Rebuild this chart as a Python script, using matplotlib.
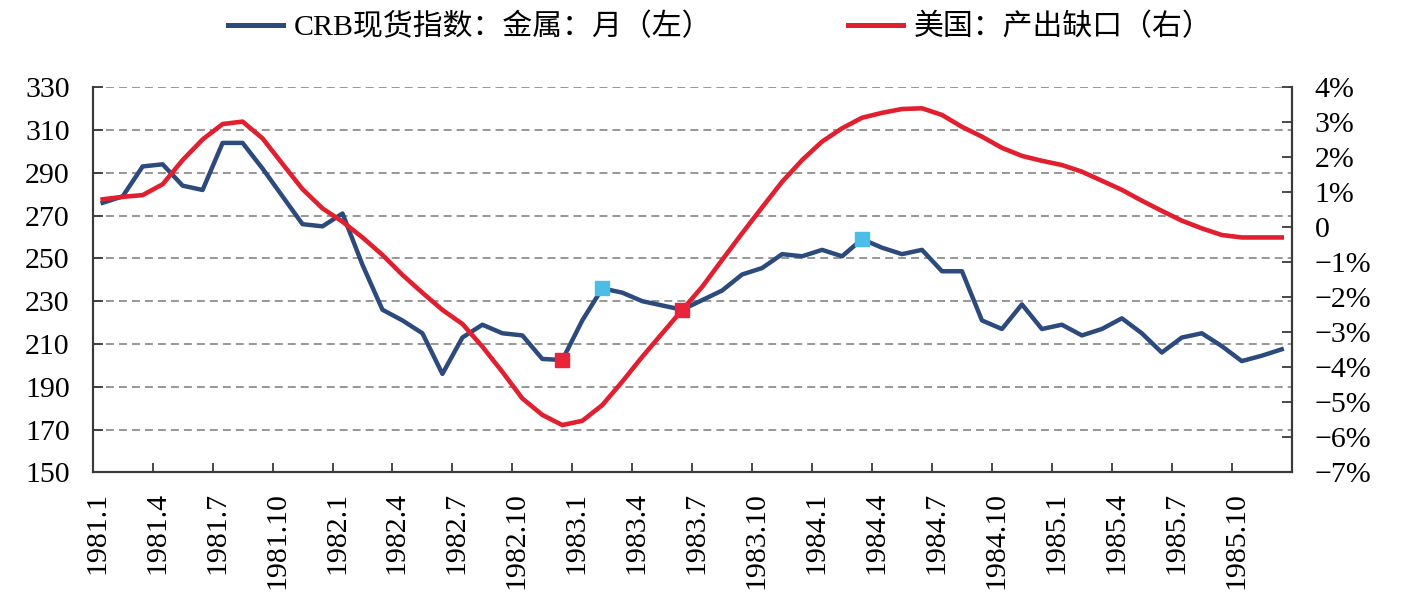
import matplotlib
matplotlib.use("Agg")
import matplotlib.pyplot as plt
from matplotlib.ticker import FixedLocator, NullFormatter
from matplotlib.lines import Line2D

plt.rcParams['font.family'] = ['Liberation Serif', 'Noto Sans CJK SC']
plt.rcParams['axes.unicode_minus'] = True

# ---------------- data ----------------
months = [f"{y}.{m}" for y in range(1981, 1986) for m in range(1, 13)]

crb_metals = [276, 279, 293, 294, 284, 282, 304, 304, 292, 279,
              266, 265, 271, 247, 226, 221, 215, 196, 213, 219,
              215, 214, 203, 202.5, 221, 236, 234, 230, 228, 226,
              230.5, 235, 242.5, 245.5, 252, 251, 254, 251, 259, 255,
              252, 254, 244, 244, 221, 217, 228.5, 217, 219, 214,
              217, 222, 215, 206, 213, 215, 209, 202, 204.5, 207.5]

us_output_gap = [0.80, 0.87, 0.92, 1.23, 1.92, 2.51, 2.95, 3.02, 2.54, 1.81,
                 1.09, 0.54, 0.16, -0.29, -0.79, -1.36, -1.87, -2.36, -2.76, -3.41,
                 -4.13, -4.89, -5.36, -5.65, -5.53, -5.08, -4.41, -3.70, -3.03, -2.36,
                 -1.70, -0.93, -0.17, 0.57, 1.30, 1.92, 2.45, 2.83, 3.13, 3.27,
                 3.38, 3.40, 3.21, 2.87, 2.59, 2.27, 2.04, 1.90, 1.78, 1.59,
                 1.33, 1.07, 0.76, 0.47, 0.19, -0.03, -0.22, -0.29, -0.29, -0.29]

red_marks = ["1982.12", "1983.6"]
cyan_marks = ["1983.2", "1984.3"]

x_labels = ["1981.1", "1981.4", "1981.7", "1981.10",
            "1982.1", "1982.4", "1982.7", "1982.10",
            "1983.1", "1983.4", "1983.7", "1983.10",
            "1984.1", "1984.4", "1984.7", "1984.10",
            "1985.1", "1985.4", "1985.7", "1985.10"]

left_ticks = [150, 170, 190, 210, 230, 250, 270, 290, 310, 330]
right_ticks = [-7, -6, -5, -4, -3, -2, -1, 0, 1, 2, 3, 4]
right_labels = ["−7%", "−6%", "−5%", "−4%", "−3%", "−2%", "−1%", "0",
                "1%", "2%", "3%", "4%"]

legend_labels = ["CRB现货指数：金属：月（左）", "美国：产出缺口（右）"]

# ---------------- style ----------------
BLUE = "#2c4a7c"
RED = "#e21f2f"
CYAN = "#4cbde8"
RED_MK = "#e8233a"
SPINE = "#3a3a3a"
GRID = "#7a7a7a"
FS = 21.5

fig = plt.figure(figsize=(14.05, 6.15), dpi=100)
ax = fig.add_axes([92.7 / 1405, 1 - 472.3 / 615, 1199 / 1405, 385 / 615])
ax2 = ax.twinx()

x = list(range(len(months)))
ax.plot(x, crb_metals, color=BLUE, lw=3.2, solid_joinstyle='round', zorder=3)
ax2.plot(x, us_output_gap, color=RED, lw=3.3, solid_joinstyle='round', zorder=3)

# highlighted points on the CRB series (drawn on top of both lines)
for labels, col in ((red_marks, RED_MK), (cyan_marks, CYAN)):
    idx = [months.index(m) for m in labels]
    ax2.plot(idx, [crb_metals[i] for i in idx], ls='none', marker='s',
             ms=9.5, color=col, mec=col, transform=ax.transData, zorder=5)

ax.set_xlim(-0.5, len(months) - 0.5)
ax.set_ylim(150, 330)
ax2.set_ylim(-7, 4)

# left axis
ax.set_yticks(left_ticks)
ax.set_yticklabels([str(v) for v in left_ticks], fontsize=FS)
ax.tick_params(axis='y', direction='in', length=7, width=1.3, color=SPINE, pad=16.5)
for v in left_ticks[1:]:
    ax.axhline(v, color=GRID, lw=1.1, ls=(0, (5.2, 3.3)), zorder=1)

# right axis
ax2.set_yticks(right_ticks)
ax2.set_yticklabels(right_labels, fontsize=FS)
ax2.tick_params(axis='y', direction='in', length=7, width=1.3, color=SPINE, pad=16.5)

# x axis: labels at categories, tick marks between groups of 3 months
lab_pos = [months.index(l) - 0.28 for l in x_labels]
ax.xaxis.set_major_locator(FixedLocator(lab_pos))
ax.set_xticklabels(x_labels, rotation=90, fontsize=FS)
ax.tick_params(axis='x', which='major', length=0, pad=14)
ax.xaxis.set_minor_locator(FixedLocator([months.index(l) - 0.5 for l in x_labels]))
ax.xaxis.set_minor_formatter(NullFormatter())
ax.tick_params(axis='x', which='minor', direction='in', length=6.5, width=1.3, color=SPINE)

for a in (ax, ax2):
    a.spines['top'].set_visible(False)
    for s in ('left', 'right', 'bottom'):
        a.spines[s].set_color(SPINE)
        a.spines[s].set_linewidth(1.5)

# legend
handles = [Line2D([], [], color=BLUE, lw=3.6), Line2D([], [], color=RED, lw=3.6)]
fig.legend(handles, legend_labels, loc='center', bbox_to_anchor=(0.5125, 0.956),
           ncol=2, frameon=False, fontsize=FS, handlelength=1.85,
           handletextpad=0.35, columnspacing=4.55)

fig.savefig("out.png", dpi=100)
